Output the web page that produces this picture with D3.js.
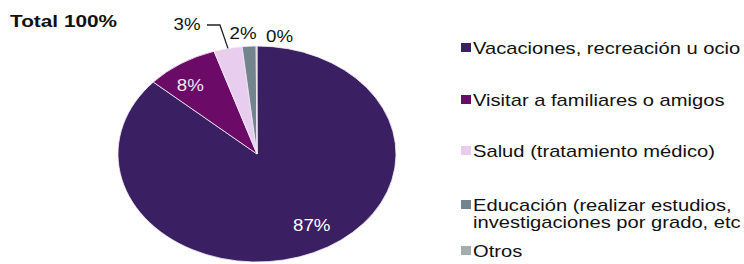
<!DOCTYPE html>
<html>
<head>
<meta charset="utf-8">
<script src="https://cdn.jsdelivr.net/npm/d3@7"></script>
<style>
  body { margin: 0; background: #fff; }
  text { font-family: "Liberation Sans", Arial, sans-serif; }
</style>
</head>
<body>
<div id="chart"></div>
<script>
const categories = [
  'Vacaciones, recreación u ocio',
  'Visitar a familiares o amigos',
  'Salud (tratamiento médico)',
  'Educación (realizar estudios,|investigaciones por grado, etc',
  'Otros'
];
const values = [86.6, 8.4, 3.3, 1.6, 0.1];
const colors = ['#3a2062', '#6c0a68', '#e8cdee', '#72858e', '#a3adad'];
const title = 'Total 100%';

const width = 744, height = 264;
const cx = 257, cy = 154, rx = 139, ry = 108;

const svg = d3.select('#chart').append('svg')
  .attr('width', width)
  .attr('height', height);

const pie = d3.pie().sort(null).value(d => d)(values);
const arc = d3.arc().innerRadius(0).outerRadius(1);

// ellipse: unit pie stretched to rx/ry
const g = svg.append('g')
  .attr('transform', `translate(${cx},${cy}) scale(${rx},${ry})`);

g.selectAll('path')
  .data(pie)
  .enter()
  .append('path')
  .attr('d', arc)
  .attr('fill', (d, i) => colors[i])
  .attr('stroke', '#f4eef6')
  .attr('stroke-width', 0.8)
  .attr('vector-effect', 'non-scaling-stroke');

// point on ellipse for angle a and relative radius r
const pos = (a, r) => [cx + rx * r * Math.sin(a), cy - ry * r * Math.cos(a)];
const mid = d => (d.startAngle + d.endAngle) / 2;

// stretched text, the source is a bit wide
function label(sel, x, y, t, size, sx, anchor) {
  return sel.append('text')
    .attr('transform', `translate(${x},${y}) scale(${sx},1)`)
    .attr('text-anchor', anchor || 'start')
    .attr('dy', '0.36em')
    .attr('font-size', size)
    .text(t);
}

// percent labels: [radius, dx, dy]
const lab = [
  [0.77, 11, -5],
  [0.8, -6, 3],
  [1.27, -33, 4],
  [1.13, -5, 1],
  [1.1, 23, 1]
];
pie.forEach((d, i) => {
  const p = pos(mid(d), lab[i][0]);
  label(svg, p[0] + lab[i][1], p[1] + lab[i][2], Math.round(values[i]) + '%', 17, 1.1, 'middle')
    .attr('fill', i === 0 ? '#fff' : i === 1 ? '#f6e6f6' : '#111');
});

// leader for the 3% label
const tip = pos(mid(pie[2]), 1.0);
svg.append('path')
  .attr('d', d3.line()([[tip[0] - 21, 25], [tip[0] - 8, 25], tip]))
  .attr('fill', 'none')
  .attr('stroke', '#222')
  .attr('stroke-width', 1.3);

label(svg, 10, 21, title, 16, 1.3)
  .attr('font-weight', 'bold')
  .attr('fill', '#111');

// legend
const legendY = [48, 100, 151, 205, 251];
categories.forEach((c, i) => {
  const row = svg.append('g').attr('transform', `translate(461,${legendY[i]})`);
  row.append('rect')
    .attr('x', 0).attr('y', -5)
    .attr('width', 10).attr('height', 9)
    .attr('fill', colors[i]);
  c.split('|').forEach((t, j) => {
    label(row, 12, j * 17, t, 16, 1.26).attr('fill', '#111');
  });
});
</script>
</body>
</html>
